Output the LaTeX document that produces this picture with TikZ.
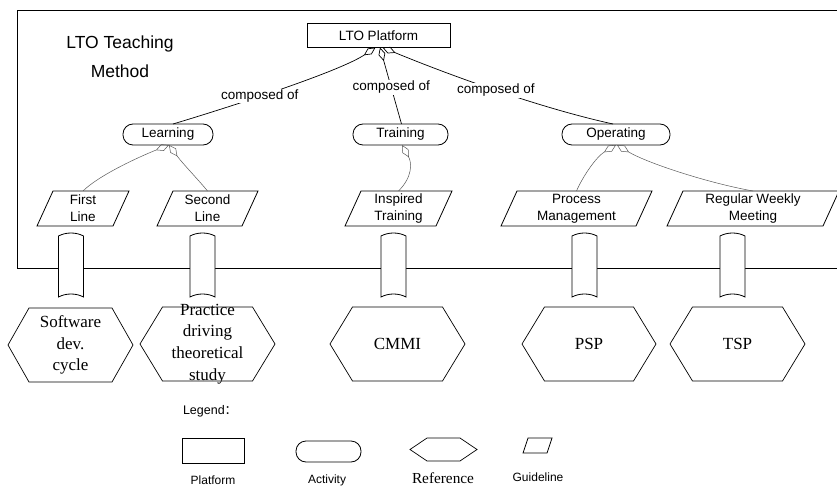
\documentclass[tikz,border=0pt]{standalone}
\usepackage{fontspec}
\setmainfont{Liberation Sans}
\newfontfamily\tnr{Liberation Serif}
\newfontfamily\cjkf{Noto Sans CJK SC}
\usetikzlibrary{arrows.meta,calc}
\newcommand\myPara[2]{\draw[line width=0.8pt] ([xshift=-#2]#1.south west) -- ([xshift=#2]#1.north west) -- ([xshift=#2]#1.north east) -- ([xshift=-#2]#1.south east) -- cycle;}
\newcommand\myHex[4]{\draw[line width=0.7pt] ($(#1.center)+(-#2,0)$) -- ($(#1.center)+(-#2+#3,-#4)$) -- ($(#1.center)+(#2-#3,-#4)$) -- ($(#1.center)+(#2,0)$) -- ($(#1.center)+(#2-#3,#4)$) -- ($(#1.center)+(-#2+#3,#4)$) -- cycle;}
\begin{document}
\begin{tikzpicture}[x=1pt,y=-1pt,
  every node/.style={inner sep=0pt, outer sep=0pt},
  txt/.style={font=\fontsize{13.5}{17}\selectfont},
  plat/.style={txt, draw, line width=0.8pt, minimum width=143pt, minimum height=24pt},
  act/.style={txt, draw, line width=0.8pt, rounded corners=10pt, minimum height=21pt},
  guide/.style={txt, minimum height=35pt, align=center},
  refn/.style={font=\tnr\fontsize{17}{21.7}\selectfont, align=center},
  lab/.style={txt, fill=white, inner sep=1pt},
  leg/.style={font=\fontsize{12}{14}\selectfont},
  comp/.style={line width=0.7pt, {Diamond[open,length=14pt,width=7pt]}-},
  sub/.style={black!65, line width=0.5pt, {Diamond[open,length=14pt,width=7pt]}-},
  tube/.pic={\draw[line width=0.8pt, fill=white] (-12.5,-32) .. controls (-5,-36) and (5,-36) .. (12.5,-32) -- (12.5,29) .. controls (5,25) and (-5,25) .. (-12.5,29) -- cycle;}
]
\useasboundingbox (0,0) rectangle (837,486);
% frame
\draw[line width=0.8pt] (837,10) -- (17,10) -- (17,268) -- (837,268);
\node[font=\fontsize{17.5}{29}\selectfont, align=center] (title) at (120,57) {LTO Teaching\\Method};
% platform and activities
\node[plat] (plat) at (378.5,35.5) {LTO Platform};
\node[act, minimum width=90pt] (learn) at (168,134.5) {Learning};
\node[act, minimum width=95pt] (train) at (400.5,134.5) {Training};
\node[act, minimum width=108pt] (oper) at (616,134.5) {Operating};
% guidelines
\node[guide, minimum width=76pt] (g1) at (83,208.5) {First\\Line};
\node[guide, minimum width=85pt] (g2) at (207.5,208.5) {Second\\Line};
\node[guide, minimum width=91pt] (g3) at (398.5,208.5) {Inspired\\Training};
\node[guide, minimum width=135pt] (g4) at (576.5,208.5) {Process\\Management};
\node[guide, minimum width=156pt] (g5) at (753,208.5) {Regular Weekly\\Meeting};
\foreach \g in {g1,g2,g3,g4,g5} {\myPara{\g}{8pt}}
% tubes
\foreach \x in {71,202.5,393.5,584.5,732.5} {\pic at (\x,268) {tube};}
% references
\node[refn] (r1) at (70.5,345) {Software\\dev.\\cycle};
\node[refn] (r2) at (207.5,344) {Practice\\driving\\theoretical\\study};
\node[refn] (r3) at (397.5,344) {CMMI};
\node[refn] (r4) at (589,344) {PSP};
\node[refn] (r5) at (737.5,344) {TSP};
\myHex{r1}{62.5}{21}{37}
\myHex{r2}{67.5}{22.5}{37}
\myHex{r3}{67.5}{22.5}{37}
\myHex{r4}{67}{22.5}{37}
\myHex{r5}{67.5}{22.5}{37}
% composed-of connectors
\draw[comp] ([xshift=-3pt]plat.south) .. controls +(-36,24) and +(60,-18) .. node[lab,pos=0.6]{composed of} ([xshift=5pt]learn.north);
\draw[comp] ([xshift=1.5pt]plat.south) -- node[lab,pos=0.52]{composed of} ([xshift=1pt]train.north);
\draw[comp] ([xshift=4pt]plat.south) .. controls +(68,28) and +(-73,-16) .. node[lab,pos=0.5]{composed of} ([xshift=-3pt]oper.north);
% activity to guideline
\draw[sub] ([xshift=1pt]learn.south) .. controls +(-28,11) and +(16,-16) .. (g1.north);
\draw[sub] ([xshift=1pt]learn.south) .. controls +(14,19) and +(-8,-10) .. (g2.north);
\draw[sub] ([xshift=1.5pt]train.south) .. controls +(10,18) and +(14,-14) .. (g3.north);
\draw[sub] (oper.south) .. controls +(-20,12) and +(6,-14) .. (g4.north);
\draw[sub] ([xshift=1pt]oper.south) .. controls +(30,18) and +(-45,-8) .. (g5.north);
% legend
\node[anchor=west, font=\fontsize{12.5}{15}\selectfont] (legt) at (183,411) {Legend{\cjkf ：}};
\node[draw, line width=0.8pt, minimum width=62pt, minimum height=25pt] (legPlat) at (213,450.5) {};
\node[draw, line width=0.8pt, rounded corners=10pt, minimum width=65pt, minimum height=21pt] (legAct) at (328.5,451.5) {};
\node[minimum width=33pt, minimum height=23pt] (legRef) at (443.5,449.5) {};
\myHex{legRef}{33.5}{17}{11.5}
\node[minimum width=24pt, minimum height=15pt] (legGuide) at (537.5,445.5) {};
\myPara{legGuide}{2.5pt}
\node[leg] (lp) at (213,480) {Platform};
\node[leg] (la) at (327,480) {Activity};
\node[font=\tnr\fontsize{15.3}{18}\selectfont] (lr) at (443,478.5) {Reference};
\node[leg] (lg) at (538,477) {Guideline};
\end{tikzpicture}
\end{document}
